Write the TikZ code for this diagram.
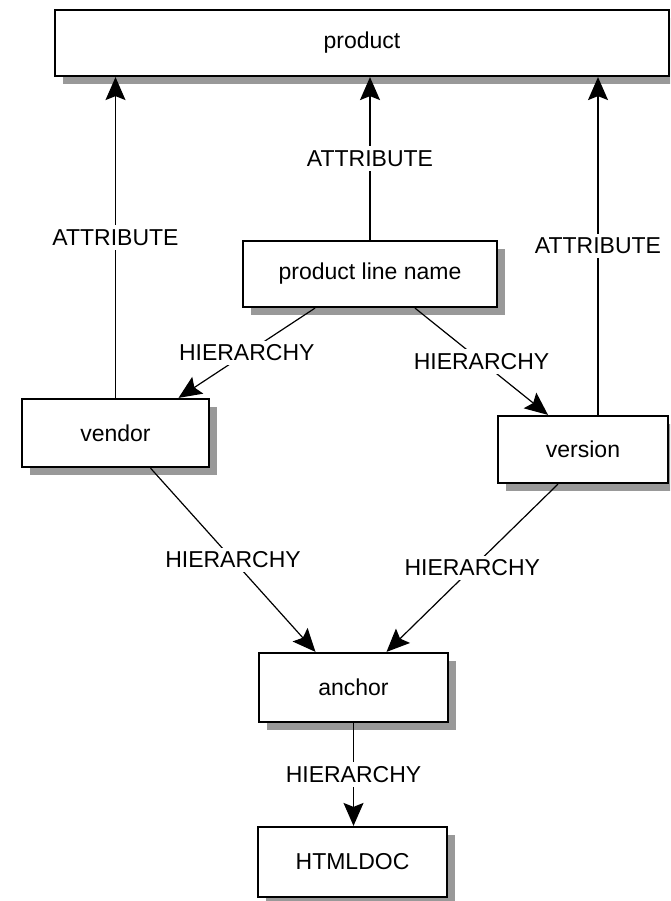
\documentclass[tikz,border=0pt]{standalone}
\usepackage{fontspec}
\setmainfont{Liberation Sans}
\usetikzlibrary{shadows,arrows.meta}
\begin{document}
\begin{tikzpicture}[x=1pt,y=-1pt,
  every node/.style={font=\fontsize{23}{27}\selectfont},
  entity/.style={draw=black,line width=2.2pt,fill=white,inner sep=0pt,
    drop shadow={shadow xshift=8pt,shadow yshift=-8pt,fill=black!40,opacity=1}},
  link/.style={line width=1.2pt,-{Stealth[length=23pt,width=20pt,inset=4pt]}},
  lbl/.style={fill=white,inner sep=4pt}]
\clip (0,0) rectangle (670,901);

% entities
\node[entity,minimum width=614pt,minimum height=66pt] (product) at (362,43) {product};
\node[entity,minimum width=254pt,minimum height=66pt] (pln) at (370,274) {product line name};
\node[entity,minimum width=187pt,minimum height=68pt] (vendor) at (115.5,433) {vendor};
\node[entity,minimum width=170pt,minimum height=67pt] (version) at (583,449.5) {version};
\node[entity,minimum width=189pt,minimum height=69pt] (anchor) at (353.5,687.5) {anchor};
\node[entity,minimum width=189pt,minimum height=70pt] (htmldoc) at (352.5,862) {HTMLDOC};

% attributes
\draw[link] (vendor.north) -- node[lbl] {ATTRIBUTE} (vendor.north |- product.south);
\draw[link] (pln.north) -- node[lbl] {ATTRIBUTE} (pln.north |- product.south);
\draw[link] ([xshift=15pt]version.north) -- node[lbl] {ATTRIBUTE} ([xshift=15pt]version.north |- product.south);

% hierarchy
\draw[link] ([xshift=-55pt]pln.south) -- node[lbl] {HIERARCHY} ([xshift=63pt]vendor.north);
\draw[link] ([xshift=45pt]pln.south) -- node[lbl] {HIERARCHY} ([xshift=-35pt]version.north);
\draw[link] ([xshift=35pt]vendor.south) -- node[lbl] {HIERARCHY} ([xshift=-38pt]anchor.north);
\draw[link] ([xshift=-25pt]version.south) -- node[lbl] {HIERARCHY} ([xshift=33pt]anchor.north);
\draw[link] (anchor.south) -- node[lbl] {HIERARCHY} (anchor.south |- htmldoc.north);
\end{tikzpicture}
\end{document}
